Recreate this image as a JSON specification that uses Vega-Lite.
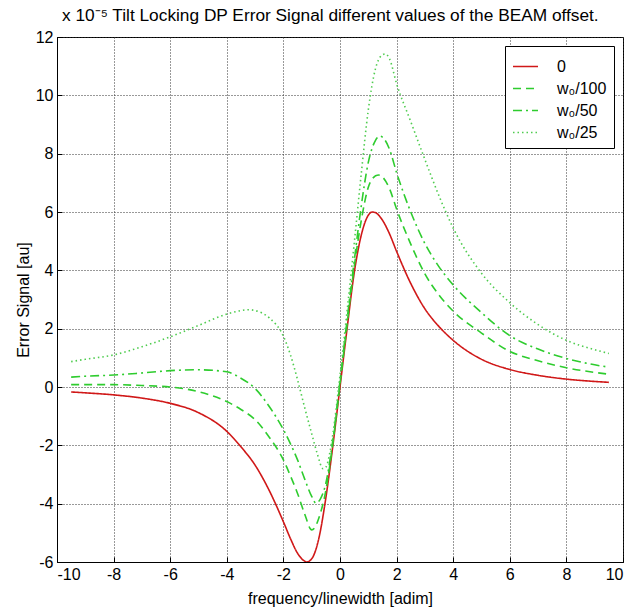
{
  "$schema": "https://vega.github.io/schema/vega-lite/v6.json",
  "width": 566,
  "height": 525,
  "autosize": {"type": "none"},
  "padding": {"left": 57, "top": 37, "right": 10, "bottom": 48},
  "background": "white",
  "title": {"text": "x 10⁻⁵ Tilt Locking DP Error Signal different values of the BEAM offset.", "anchor": "start", "frame": "group", "dx": 5, "offset": 5, "font": "Liberation Sans", "fontSize": 17.3, "fontWeight": "normal", "color": "#000"},
  "config": {
    "view": {"stroke": "#000", "strokeWidth": 1},
    "axis": {"domainColor": "#000", "labelFont": "Liberation Sans", "labelFontSize": 16, "labelColor": "#000", "titleFont": "Liberation Sans", "titleFontSize": 16, "titleFontWeight": "normal", "titleColor": "#000", "tickColor": "#000", "labelExpr": "toString(datum.value)"},
    "legend": {"orient": "top-right", "offset": 9, "strokeColor": "#000", "fillColor": "#fff", "padding": 7, "symbolType": "stroke", "symbolSize": 625, "symbolStrokeWidth": 1.6, "labelFont": "Liberation Sans", "labelFontSize": 16, "labelColor": "#000", "rowPadding": 0, "labelOffset": 18, "cornerRadius": 0}
  },
  "data": {"values": [
    {"x": -9.5, "y": -0.17, "s": "0"}, {"x": -9, "y": -0.2, "s": "0"}, {"x": -8, "y": -0.27, "s": "0"}, {"x": -7, "y": -0.38, "s": "0"}, {"x": -6, "y": -0.56, "s": "0"}, {"x": -5, "y": -0.88, "s": "0"}, {"x": -4, "y": -1.52, "s": "0"}, {"x": -3.5, "y": -2.05, "s": "0"}, {"x": -3, "y": -2.68, "s": "0"}, {"x": -2.5, "y": -3.55, "s": "0"}, {"x": -2, "y": -4.62, "s": "0"}, {"x": -1.75, "y": -5.2, "s": "0"}, {"x": -1.5, "y": -5.7, "s": "0"}, {"x": -1.25, "y": -5.97, "s": "0"}, {"x": -1.18, "y": -6.0, "s": "0"}, {"x": -1, "y": -5.89, "s": "0"}, {"x": -0.75, "y": -5.2, "s": "0"}, {"x": -0.5, "y": -3.8, "s": "0"}, {"x": -0.25, "y": -2.0, "s": "0"}, {"x": 0, "y": 0, "s": "0"}, {"x": 0.25, "y": 2.0, "s": "0"}, {"x": 0.5, "y": 3.9, "s": "0"}, {"x": 0.75, "y": 5.2, "s": "0"}, {"x": 1, "y": 5.89, "s": "0"}, {"x": 1.15, "y": 6.0, "s": "0"}, {"x": 1.25, "y": 5.98, "s": "0"}, {"x": 1.5, "y": 5.72, "s": "0"}, {"x": 1.75, "y": 5.25, "s": "0"}, {"x": 2, "y": 4.65, "s": "0"}, {"x": 2.5, "y": 3.55, "s": "0"}, {"x": 3, "y": 2.68, "s": "0"}, {"x": 3.5, "y": 2.07, "s": "0"}, {"x": 4, "y": 1.6, "s": "0"}, {"x": 5, "y": 0.95, "s": "0"}, {"x": 6, "y": 0.6, "s": "0"}, {"x": 7, "y": 0.4, "s": "0"}, {"x": 8, "y": 0.27, "s": "0"}, {"x": 9, "y": 0.19, "s": "0"}, {"x": 9.5, "y": 0.16, "s": "0"},

    {"x": -9.5, "y": 0.08, "s": "w₀/100"}, {"x": -9, "y": 0.08, "s": "w₀/100"}, {"x": -8, "y": 0.08, "s": "w₀/100"}, {"x": -7, "y": 0.05, "s": "w₀/100"}, {"x": -6, "y": 0.0, "s": "w₀/100"}, {"x": -5, "y": -0.16, "s": "w₀/100"}, {"x": -4, "y": -0.5, "s": "w₀/100"}, {"x": -3.5, "y": -0.77, "s": "w₀/100"}, {"x": -3, "y": -1.12, "s": "w₀/100"}, {"x": -2.5, "y": -1.72, "s": "w₀/100"}, {"x": -2, "y": -2.5, "s": "w₀/100"}, {"x": -1.75, "y": -3.05, "s": "w₀/100"}, {"x": -1.5, "y": -3.65, "s": "w₀/100"}, {"x": -1.25, "y": -4.35, "s": "w₀/100"}, {"x": -1, "y": -4.9, "s": "w₀/100"}, {"x": -0.85, "y": -4.75, "s": "w₀/100"}, {"x": -0.75, "y": -4.5, "s": "w₀/100"}, {"x": -0.5, "y": -3.55, "s": "w₀/100"}, {"x": -0.25, "y": -1.9, "s": "w₀/100"}, {"x": 0, "y": 0.1, "s": "w₀/100"}, {"x": 0.25, "y": 2.15, "s": "w₀/100"}, {"x": 0.5, "y": 4.1, "s": "w₀/100"}, {"x": 0.75, "y": 5.7, "s": "w₀/100"}, {"x": 1, "y": 6.85, "s": "w₀/100"}, {"x": 1.15, "y": 7.15, "s": "w₀/100"}, {"x": 1.35, "y": 7.27, "s": "w₀/100"}, {"x": 1.5, "y": 7.2, "s": "w₀/100"}, {"x": 1.75, "y": 6.8, "s": "w₀/100"}, {"x": 2, "y": 6.1, "s": "w₀/100"}, {"x": 2.5, "y": 4.9, "s": "w₀/100"}, {"x": 3, "y": 3.88, "s": "w₀/100"}, {"x": 3.5, "y": 3.15, "s": "w₀/100"}, {"x": 4, "y": 2.6, "s": "w₀/100"}, {"x": 5, "y": 1.85, "s": "w₀/100"}, {"x": 6, "y": 1.22, "s": "w₀/100"}, {"x": 7, "y": 0.9, "s": "w₀/100"}, {"x": 8, "y": 0.66, "s": "w₀/100"}, {"x": 9, "y": 0.5, "s": "w₀/100"}, {"x": 9.5, "y": 0.44, "s": "w₀/100"},

    {"x": -9.5, "y": 0.34, "s": "w₀/50"}, {"x": -9, "y": 0.37, "s": "w₀/50"}, {"x": -8, "y": 0.41, "s": "w₀/50"}, {"x": -7, "y": 0.48, "s": "w₀/50"}, {"x": -6, "y": 0.56, "s": "w₀/50"}, {"x": -5, "y": 0.59, "s": "w₀/50"}, {"x": -4, "y": 0.52, "s": "w₀/50"}, {"x": -3.5, "y": 0.3, "s": "w₀/50"}, {"x": -3, "y": -0.05, "s": "w₀/50"}, {"x": -2.5, "y": -0.67, "s": "w₀/50"}, {"x": -2, "y": -1.46, "s": "w₀/50"}, {"x": -1.75, "y": -1.95, "s": "w₀/50"}, {"x": -1.5, "y": -2.5, "s": "w₀/50"}, {"x": -1.25, "y": -3.15, "s": "w₀/50"}, {"x": -1, "y": -3.75, "s": "w₀/50"}, {"x": -0.85, "y": -3.98, "s": "w₀/50"}, {"x": -0.7, "y": -3.85, "s": "w₀/50"}, {"x": -0.5, "y": -3.3, "s": "w₀/50"}, {"x": -0.25, "y": -1.8, "s": "w₀/50"}, {"x": 0, "y": 0.2, "s": "w₀/50"}, {"x": 0.25, "y": 2.3, "s": "w₀/50"}, {"x": 0.5, "y": 4.3, "s": "w₀/50"}, {"x": 0.75, "y": 6.2, "s": "w₀/50"}, {"x": 1, "y": 7.7, "s": "w₀/50"}, {"x": 1.25, "y": 8.45, "s": "w₀/50"}, {"x": 1.41, "y": 8.6, "s": "w₀/50"}, {"x": 1.6, "y": 8.45, "s": "w₀/50"}, {"x": 1.75, "y": 8.15, "s": "w₀/50"}, {"x": 2, "y": 7.35, "s": "w₀/50"}, {"x": 2.5, "y": 6.0, "s": "w₀/50"}, {"x": 3, "y": 4.92, "s": "w₀/50"}, {"x": 3.5, "y": 4.12, "s": "w₀/50"}, {"x": 4, "y": 3.5, "s": "w₀/50"}, {"x": 5, "y": 2.55, "s": "w₀/50"}, {"x": 6, "y": 1.76, "s": "w₀/50"}, {"x": 7, "y": 1.3, "s": "w₀/50"}, {"x": 8, "y": 0.98, "s": "w₀/50"}, {"x": 9, "y": 0.76, "s": "w₀/50"}, {"x": 9.5, "y": 0.68, "s": "w₀/50"},

    {"x": -9.5, "y": 0.87, "s": "w₀/25"}, {"x": -9, "y": 0.95, "s": "w₀/25"}, {"x": -8, "y": 1.1, "s": "w₀/25"}, {"x": -7, "y": 1.38, "s": "w₀/25"}, {"x": -6, "y": 1.72, "s": "w₀/25"}, {"x": -5, "y": 2.11, "s": "w₀/25"}, {"x": -4, "y": 2.5, "s": "w₀/25"}, {"x": -3.5, "y": 2.62, "s": "w₀/25"}, {"x": -3.2, "y": 2.65, "s": "w₀/25"}, {"x": -3, "y": 2.62, "s": "w₀/25"}, {"x": -2.5, "y": 2.37, "s": "w₀/25"}, {"x": -2, "y": 1.74, "s": "w₀/25"}, {"x": -1.75, "y": 1.1, "s": "w₀/25"}, {"x": -1.5, "y": 0.25, "s": "w₀/25"}, {"x": -1.25, "y": -0.7, "s": "w₀/25"}, {"x": -1, "y": -1.6, "s": "w₀/25"}, {"x": -0.8, "y": -2.3, "s": "w₀/25"}, {"x": -0.6, "y": -2.8, "s": "w₀/25"}, {"x": -0.5, "y": -2.75, "s": "w₀/25"}, {"x": -0.35, "y": -2.2, "s": "w₀/25"}, {"x": -0.25, "y": -1.6, "s": "w₀/25"}, {"x": 0, "y": 0.4, "s": "w₀/25"}, {"x": 0.25, "y": 2.6, "s": "w₀/25"}, {"x": 0.5, "y": 4.9, "s": "w₀/25"}, {"x": 0.75, "y": 7.3, "s": "w₀/25"}, {"x": 1, "y": 9.5, "s": "w₀/25"}, {"x": 1.25, "y": 10.9, "s": "w₀/25"}, {"x": 1.45, "y": 11.35, "s": "w₀/25"}, {"x": 1.6, "y": 11.42, "s": "w₀/25"}, {"x": 1.75, "y": 11.25, "s": "w₀/25"}, {"x": 2, "y": 10.4, "s": "w₀/25"}, {"x": 2.5, "y": 9.1, "s": "w₀/25"}, {"x": 3, "y": 7.8, "s": "w₀/25"}, {"x": 3.5, "y": 6.55, "s": "w₀/25"}, {"x": 4, "y": 5.45, "s": "w₀/25"}, {"x": 5, "y": 3.9, "s": "w₀/25"}, {"x": 6, "y": 2.89, "s": "w₀/25"}, {"x": 7, "y": 2.14, "s": "w₀/25"}, {"x": 8, "y": 1.6, "s": "w₀/25"}, {"x": 9, "y": 1.28, "s": "w₀/25"}, {"x": 9.5, "y": 1.15, "s": "w₀/25"}
  ]},
  "mark": {"type": "line", "strokeWidth": 1.6, "clip": true, "interpolate": "monotone"},
  "encoding": {
    "x": {"field": "x", "type": "quantitative", "scale": {"domain": [-10, 10], "nice": false, "zero": false}, "axis": {"values": [-10, -8, -6, -4, -2, 0, 2, 4, 6, 8, 10], "title": "frequency/linewidth [adim]", "titlePadding": 8, "tickSize": -5, "labelPadding": 9, "grid": true, "gridColor": "#333", "gridDash": [1, 2], "gridOpacity": 1, "gridWidth": 1}},
    "y": {"field": "y", "type": "quantitative", "scale": {"domain": [-6, 12], "nice": false, "zero": false}, "axis": {"values": [-6, -4, -2, 0, 2, 4, 6, 8, 10, 12], "title": "Error Signal [au]", "titlePadding": 4, "tickSize": -5, "labelPadding": 9, "grid": true, "gridColor": "#333", "gridDash": [1, 2], "gridOpacity": 1, "gridWidth": 1}},
    "color": {"field": "s", "type": "nominal", "scale": {"domain": ["0", "w₀/100", "w₀/50", "w₀/25"], "range": ["#d01818", "#2ecc2e", "#2ecc2e", "#4fcc4f"]}, "legend": {"title": null}},
    "strokeDash": {"field": "s", "type": "nominal", "scale": {"domain": ["0", "w₀/100", "w₀/50", "w₀/25"], "range": [[1, 0], [8, 5], [9, 4, 2, 4], [1.5, 3]]}, "legend": {"title": null}}
  }
}
